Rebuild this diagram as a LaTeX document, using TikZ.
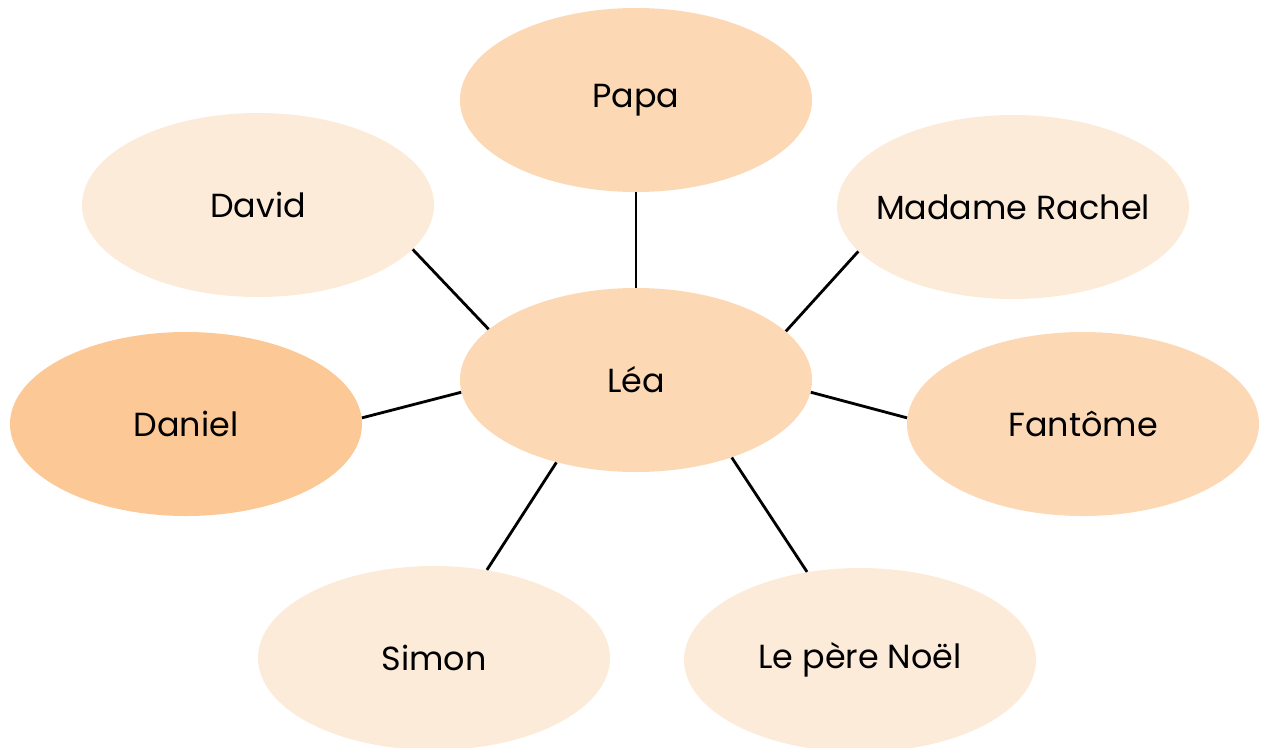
\documentclass[tikz,border=0pt]{standalone}
\usepackage{fontspec}
\setmainfont{Poppins}
\usetikzlibrary{positioning, shapes.geometric}

\definecolor{peachDark}{HTML}{FCC996}
\definecolor{peachMid}{HTML}{FCD9B4}
\definecolor{peachLight}{HTML}{FDEBDA}

\begin{document}
\begin{tikzpicture}[
    person/.style={
        ellipse,
        minimum width=7.04cm,
        minimum height=3.68cm,
        font=\fontsize{19}{22}\selectfont
    },
    link/.style={line width=1.6pt, black}
]

\useasboundingbox (-12.72,-7.34) rectangle (12.52,7.6);

% Centre
\node[person, fill=peachMid] (lea) at (0,0) {Léa};

% Around
\node[person, fill=peachMid] (papa) at (0,5.6) {Papa};
\node[person, fill=peachLight] (david) at (-7.56,3.5) {David};
\node[person, fill=peachLight] (rachel) at (7.54,3.46) {\makebox[0pt]{Madame Rachel}};
\node[person, fill=peachDark] (daniel) at (-9.0,-0.88) {Daniel};
\node[person, fill=peachMid] (fantome) at (8.94,-0.88) {Fantôme};
\node[person, fill=peachLight] (simon) at (-4.04,-5.56) {Simon};
\node[person, fill=peachLight] (noel) at (4.48,-5.6) {Le père Noël};

% Links
\draw[link] (papa.270) -- (lea.90);
\draw[link] (david.-16.5) -- (lea.161.8);
\draw[link] (rachel.-164.1) -- (lea.18.1);
\draw[link] (daniel.2) -- (lea.184.6);
\draw[link] (fantome.178.4) -- (lea.-4.9);
\draw[link] (simon.59.3) -- (lea.226.4);
\draw[link] (noel.121.9) -- (lea.-39.5);

\end{tikzpicture}
\end{document}
